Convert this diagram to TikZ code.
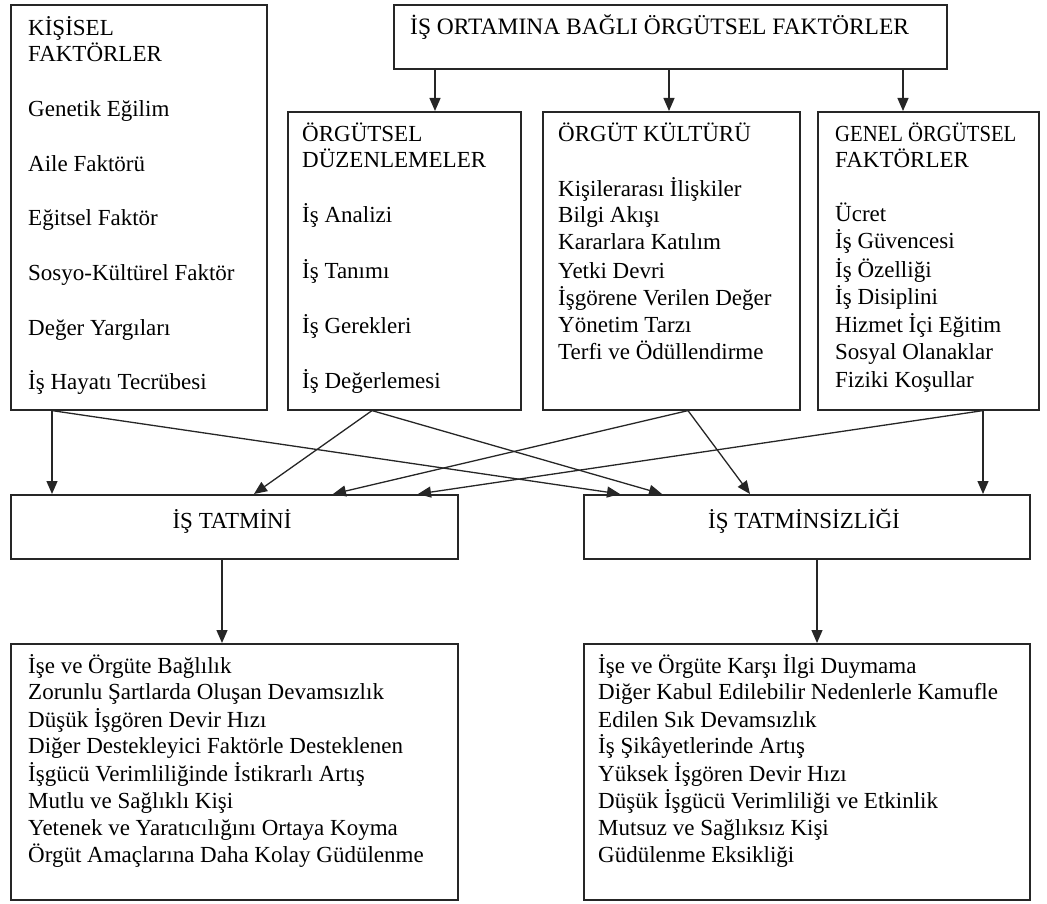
\documentclass[tikz,border=0pt]{standalone}
\usepackage{fontspec}
\setmainfont{Liberation Serif}
\usetikzlibrary{arrows.meta}
\begin{document}
\begin{tikzpicture}[x=1pt,y=-1pt,
  box/.style={draw=black!85,line width=1.6pt,rectangle,inner sep=0pt,anchor=north west},
  txt/.style={anchor=base west,inner sep=0pt,font=\fontsize{23}{27}\selectfont},
  ctxt/.style={anchor=base,inner sep=0pt,font=\fontsize{23}{27}\selectfont},
  arr/.style={draw=black!85,line width=1.3pt,-{Triangle[length=13pt,width=11pt]}}]
\useasboundingbox (0,0) rectangle (1047,904);
% boxes
\node[box,minimum width=256pt,minimum height=405pt] (K) at (10,4) {};
\node[box,minimum width=553pt,minimum height=64pt] (TOP) at (393,4) {};
\node[box,minimum width=233pt,minimum height=298pt] (OD) at (287,111) {};
\node[box,minimum width=257pt,minimum height=298pt] (OK) at (542,111) {};
\node[box,minimum width=221pt,minimum height=298pt] (GEN) at (817,111) {};
\node[box,minimum width=447pt,minimum height=64pt] (TAT) at (10,494) {};
\node[box,minimum width=446pt,minimum height=64pt] (TATS) at (583,494) {};
\node[box,minimum width=447pt,minimum height=256pt] (B1) at (10,643) {};
\node[box,minimum width=446pt,minimum height=256pt] (B2) at (583,643) {};
% texts
\node[txt,font=\fontsize{23.5}{27}\selectfont] (toptxt) at (410,35) {İŞ ORTAMINA BAĞLI ÖRGÜTSEL FAKTÖRLER};
\foreach \yy/\t [count=\i] in {36/KİŞİSEL,62/FAKTÖRLER,117/Genetik Eğilim,172/Aile Faktörü,226/Eğitsel Faktör,280/Sosyo-Kültürel Faktör,335/Değer Yargıları,389/İş Hayatı Tecrübesi}
  \node[txt] (k\i) at (28,\yy) {\t};
\foreach \yy/\t [count=\i] in {142/ÖRGÜTSEL,168/DÜZENLEMELER,223/İş Analizi,278/İş Tanımı,333/İş Gerekleri,388/İş Değerlemesi}
  \node[txt] (od\i) at (302,\yy) {\t};
\foreach \yy/\t [count=\i] in {142/ÖRGÜT KÜLTÜRÜ,197/Kişilerarası İlişkiler,223/Bilgi Akışı,250/Kararlara Katılım,278/Yetki Devri,305/İşgörene Verilen Değer,332/Yönetim Tarzı,359/Terfi ve Ödüllendirme}
  \node[txt] (ok\i) at (558,\yy) {\t};
\node[txt] (gen1) at (835,142) {\scalebox{0.9}[1]{GENEL ÖRGÜTSEL}};
\node[txt] (gen2) at (835,168) {FAKTÖRLER};
\foreach \yy/\t [count=\i] in {222/Ücret,249/İş Güvencesi,277/İş Özelliği,304/İş Disiplini,332/Hizmet İçi Eğitim,359/Sosyal Olanaklar,387/Fiziki Koşullar}
  \node[txt] (g\i) at (835,\yy) {\t};
\node[ctxt] (tattxt) at (232,528) {İŞ TATMİNİ};
\node[ctxt] (tatstxt) at (804,528) {İŞ TATMİNSİZLİĞİ};
\foreach \yy/\t [count=\i] in {673/İşe ve Örgüte Bağlılık,699/Zorunlu Şartlarda Oluşan Devamsızlık,727/Düşük İşgören Devir Hızı,753/Diğer Destekleyici Faktörle Desteklenen,781/İşgücü Verimliliğinde İstikrarlı Artış,808/Mutlu ve Sağlıklı Kişi,835/Yetenek ve Yaratıcılığını Ortaya Koyma,862/Örgüt Amaçlarına Daha Kolay Güdülenme}
  \node[txt] (b1\i) at (28,\yy) {\t};
\foreach \yy/\t [count=\i] in {673/İşe ve Örgüte Karşı İlgi Duymama,699/Diğer Kabul Edilebilir Nedenlerle Kamufle,727/Edilen Sık Devamsızlık,753/İş Şikâyetlerinde Artış,781/Yüksek İşgören Devir Hızı,808/Düşük İşgücü Verimliliği ve Etkinlik,835/Mutsuz ve Sağlıksız Kişi,862/Güdülenme Eksikliği}
  \node[txt] (b2\i) at (598,\yy) {\t};
% top arrows
\draw[arr] ([xshift=42pt]TOP.south west) -- ([xshift=148pt]OD.north west);
\draw[arr] ([xshift=276pt]TOP.south west) -- ([xshift=127pt]OK.north west);
\draw[arr] ([xshift=510pt]TOP.south west) -- ([xshift=86pt]GEN.north west);
% middle arrows
\draw[arr] ([xshift=42pt]K.south west) -- ([xshift=42pt]TAT.north west);
\draw[arr] ([xshift=42pt]K.south west) -- ([xshift=37pt]TATS.north west);
\draw[arr] ([xshift=85pt]OD.south west) -- ([xshift=244pt]TAT.north west);
\draw[arr] ([xshift=85pt]OD.south west) -- ([xshift=79pt]TATS.north west);
\draw[arr] ([xshift=146pt]OK.south west) -- ([xshift=323pt]TAT.north west);
\draw[arr] ([xshift=146pt]OK.south west) -- ([xshift=167pt]TATS.north west);
\draw[arr] ([xshift=166pt]GEN.south west) -- ([xshift=408pt]TAT.north west);
\draw[arr] ([xshift=166pt]GEN.south west) -- ([xshift=400pt]TATS.north west);
% bottom arrows
\draw[arr] ([xshift=212pt]TAT.south west) -- ([xshift=212pt]B1.north west);
\draw[arr] ([xshift=234pt]TATS.south west) -- ([xshift=234pt]B2.north west);
\end{tikzpicture}
\end{document}
